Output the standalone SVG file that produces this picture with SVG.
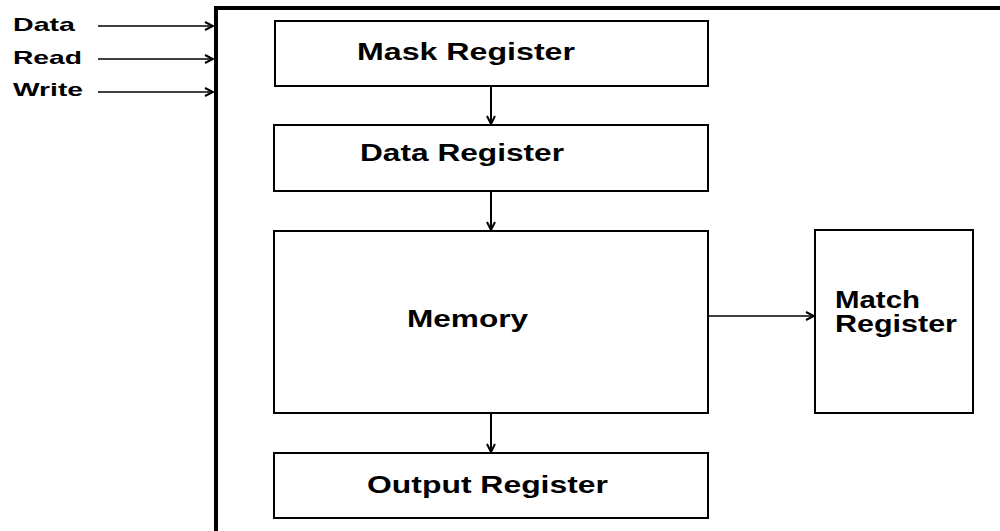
<svg xmlns="http://www.w3.org/2000/svg" width="1000" height="531" viewBox="0 0 1000 531">
<style>
.box{fill:#fff;stroke:#000;stroke-width:2}
.t{font-family:"Liberation Sans",Arial,sans-serif;font-weight:bold;font-size:23px;fill:#000}
.lbl{font-family:"Liberation Sans",Arial,sans-serif;font-weight:bold;font-size:19px;fill:#000}
.c{stroke:#000;stroke-width:2;fill:none}
.ci{stroke:#000;stroke-width:1.6;fill:none}
</style>
<defs>
<marker id="ah" markerUnits="userSpaceOnUse" markerWidth="12" markerHeight="12" refX="10" refY="5" orient="auto">
<path d="M2,1 L10,5 L2,9" fill="none" stroke="#000" stroke-width="2"/>
</marker>
</defs>
<rect width="1000" height="531" fill="#fff"/>
<g id="frame">
<path d="M216,540 L216,8 L1010,8" fill="none" stroke="#000" stroke-width="4"/>
</g>
<g id="inputs">
<text class="lbl" x="13" y="31" textLength="62" lengthAdjust="spacingAndGlyphs">Data</text>
<text class="lbl" x="13" y="64" textLength="69" lengthAdjust="spacingAndGlyphs">Read</text>
<text class="lbl" x="13" y="96" textLength="70" lengthAdjust="spacingAndGlyphs">Write</text>
</g>
<g id="mask">
<rect class="box" x="275" y="21" width="433" height="65"/>
<text class="t" x="357" y="60" textLength="218" lengthAdjust="spacingAndGlyphs">Mask Register</text>
</g>
<g id="data">
<rect class="box" x="274" y="125" width="434" height="66"/>
<text class="t" x="360" y="161" textLength="204" lengthAdjust="spacingAndGlyphs">Data Register</text>
</g>
<g id="memory">
<rect class="box" x="274" y="231" width="434" height="182"/>
<text class="t" x="407" y="327" textLength="121" lengthAdjust="spacingAndGlyphs">Memory</text>
</g>
<g id="output">
<rect class="box" x="274" y="453" width="434" height="65"/>
<text class="t" x="367" y="493" textLength="241" lengthAdjust="spacingAndGlyphs">Output Register</text>
</g>
<g id="match">
<rect class="box" x="815" y="230" width="158" height="183"/>
<text class="t" x="835" y="308" textLength="85" lengthAdjust="spacingAndGlyphs">Match</text>
<text class="t" x="835" y="332" textLength="122" lengthAdjust="spacingAndGlyphs">Register</text>
</g>
<g id="connectors">
<line class="ci" x1="98" y1="26" x2="213" y2="26" marker-end="url(#ah)"/>
<line class="ci" x1="98" y1="59" x2="213" y2="59" marker-end="url(#ah)"/>
<line class="ci" x1="98" y1="92" x2="213" y2="92" marker-end="url(#ah)"/>
<line class="c" x1="491" y1="87" x2="491" y2="124" marker-end="url(#ah)"/>
<line class="c" x1="491" y1="192" x2="491" y2="230" marker-end="url(#ah)"/>
<line class="c" x1="491" y1="414" x2="491" y2="452" marker-end="url(#ah)"/>
<line class="ci" x1="709" y1="316" x2="814" y2="316" marker-end="url(#ah)"/>
</g>
</svg>
